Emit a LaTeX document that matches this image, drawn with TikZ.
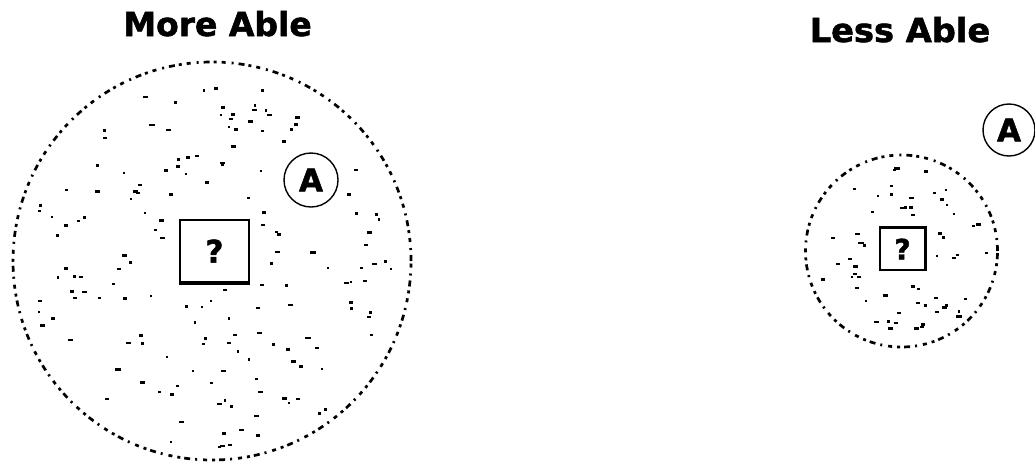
\documentclass[tikz,border=0pt]{standalone}
\usepackage{fontspec}
\setmainfont{DejaVu Sans}[BoldFeatures={FakeBold=1.6}]
\usetikzlibrary{calc}
\tikzset{
  titletext/.style={font=\fontsize{33}{36}\selectfont\bfseries, inner sep=0pt, anchor=base},
  region/.style={circle, draw, line width=2.7pt, inner sep=0pt,
    dash pattern=on 6pt off 5pt on 2pt off 6pt on 4pt off 5pt on 3pt off 4pt},
  agent/.style={circle, draw, line width=1.4pt, inner sep=0pt, minimum size=54pt,
    font=\fontsize{31}{34}\selectfont\bfseries},
  qbox/.style={draw, line width=1.6pt, inner sep=0pt, font=\fontsize{31}{34}\selectfont\bfseries},
  speck/.style={fill=black}
}
\begin{document}
\begin{tikzpicture}[x=1pt,y=-1pt]
\useasboundingbox (0,0) rectangle (1035,461);
% titles
\node[titletext] (more) at (217.5,36) {More Able};
\node[titletext] (less) at (900,42) {\scalebox{1.02}[1]{Less Able}};
% regions
\node[region, minimum size=398pt] (bigc) at (212,261) {};
\node[region, minimum size=192pt] (smallc) at (901.5,251) {};
% question boxes
\node[qbox, minimum width=69pt, minimum height=62pt] (bq) at (214.5,251) {?};
\draw[line width=3.5pt] (bq.south west) -- (bq.south east);
\node[qbox, minimum width=45pt, minimum height=42pt, font=\fontsize{28}{31}\selectfont\bfseries] (sq) at (902.5,249) {?};
\draw[line width=3pt] (sq.north west) -- (sq.north east) -- (sq.south east);
% agents
\node[agent] (ba) at (311,180) {A};
\node[agent, minimum size=52pt] (sa) at (1009,130) {A};
% specks in big region
\pgfmathsetseed{11}
\foreach \i in {1,...,170}{
  \pgfmathsetmacro\rr{186*sqrt(rnd)}
  \pgfmathsetmacro\aa{360*rnd}
  \pgfmathsetmacro\px{212+\rr*cos(\aa)}
  \pgfmathsetmacro\py{261+\rr*sin(\aa)}
  \pgfmathsetmacro\ww{2+3.5*rnd}
  \pgfmathsetmacro\hh{2+1*rnd}
  \pgfmathtruncatemacro\ok{((abs(\px-214.5)<42) && (abs(\py-251)<38)) || (veclen(\px-311,\py-180)<33) ? 0 : 1}
  \ifnum\ok=1 \fill[speck] (\px,\py) rectangle ++(\ww,\hh); \fi
}
% specks in small region
\foreach \i in {1,...,70}{
  \pgfmathsetmacro\rr{86*sqrt(rnd)}
  \pgfmathsetmacro\aa{360*rnd}
  \pgfmathsetmacro\px{901.5+\rr*cos(\aa)}
  \pgfmathsetmacro\py{251+\rr*sin(\aa)}
  \pgfmathsetmacro\ww{2+3.5*rnd}
  \pgfmathsetmacro\hh{2+1*rnd}
  \pgfmathtruncatemacro\ok{((abs(\px-902.5)<29) && (abs(\py-249)<27)) ? 0 : 1}
  \ifnum\ok=1 \fill[speck] (\px,\py) rectangle ++(\ww,\hh); \fi
}
\end{tikzpicture}
\end{document}
